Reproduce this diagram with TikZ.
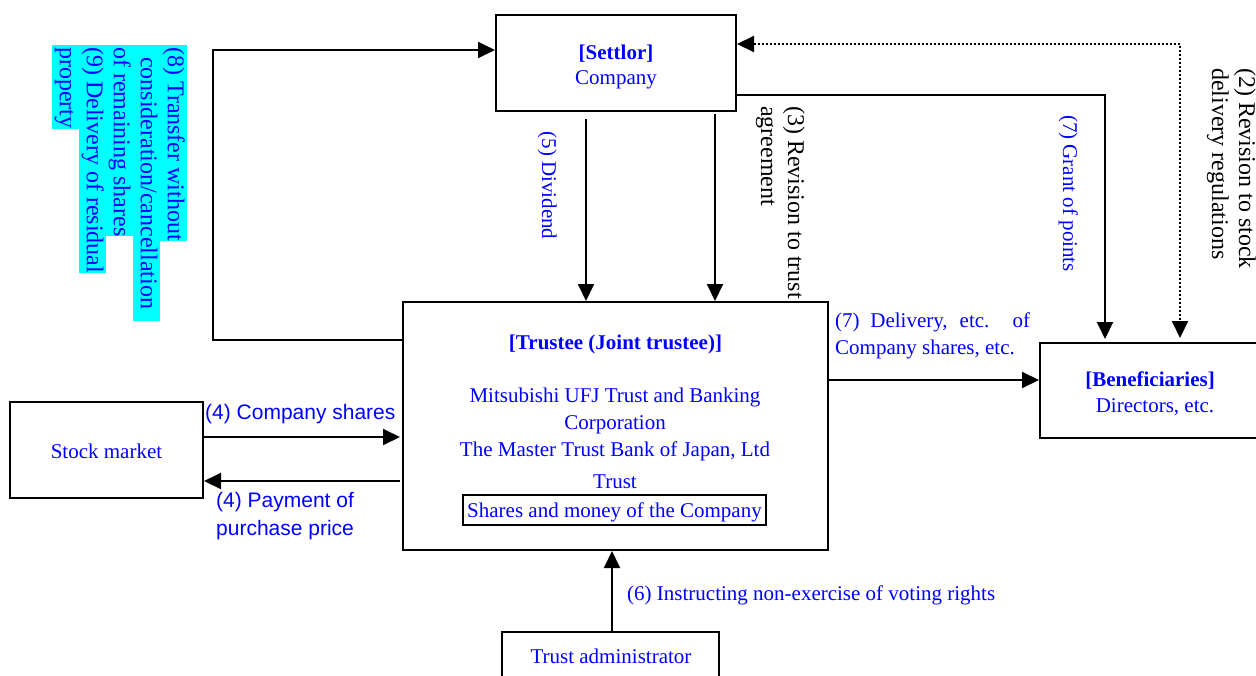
\documentclass[tikz,border=0pt]{standalone}
\usepackage{fontspec}
\setmainfont{Liberation Serif}
\newfontfamily\arialf{Liberation Sans}
\usetikzlibrary{arrows.meta}
\definecolor{tblue}{RGB}{0,0,255}
\definecolor{hcyan}{RGB}{0,255,255}
\tikzset{
  box/.style={draw, line width=2pt, inner sep=0pt},
  arr/.style={line width=2pt, -{Triangle[length=17pt,width=16pt]}},
  dotarr/.style={line width=2pt, dash pattern=on 2pt off 2pt, {Triangle[length=17pt,width=16pt]}-{Triangle[length=17pt,width=16pt]}},
  txt/.style={text=tblue, inner sep=0pt, text height=14pt, text depth=0pt},
  big/.style={font=\fontsize{24pt}{27pt}\selectfont},
  hl/.style={fill=hcyan, text=tblue, rotate=-90, anchor=north west, inner xsep=0pt, inner ysep=2pt, text height=17pt, text depth=6pt, big},
  vlab/.style={inner sep=0pt, rotate=-90, anchor=north west, align=left, big},
}
\begin{document}
\begin{tikzpicture}[x=1pt,y=-1pt,font=\fontsize{21pt}{27pt}\selectfont]
\useasboundingbox (0,0) rectangle (1256,675);

% boxes
\node[box, minimum width=240pt, minimum height=96pt] (settlor) at (616,63) {};
\node[box, minimum width=425pt, minimum height=248pt] (trustee) at (615.5,426) {};
\node[box, minimum width=232pt, minimum height=95pt] (benef) at (1156,390.5) {};
\node[box, minimum width=193pt, minimum height=96pt] (market) at (106.5,450) {};
\node[box, minimum width=217pt, minimum height=68pt] (admin) at (610.5,666) {};

% box texts
\node[txt] (settlorT) at (616,52) {\textbf{[Settlor]}};
\node[txt] (settlorC) at (616,77) {Company};
\node[txt] (trT) at (615.5,342) {\textbf{[Trustee (Joint trustee)]}};
\node[txt] (trA) at (615,395) {Mitsubishi UFJ Trust and Banking};
\node[txt] (trB) at (615,422) {Corporation};
\node[txt] (trC) at (615,449) {The Master Trust Bank of Japan, Ltd};
\node[txt] (trD) at (615,481) {Trust};
\node[box, txt, minimum width=303pt, minimum height=30pt] (trE) at (614.5,510) {Shares and money of the Company};
\node[txt] (benT) at (1150,379) {\textbf{[Beneficiaries]}};
\node[txt] (benD) at (1155,405) {Directors, etc.};
\node[txt] (marketT) at (106.5,451) {Stock market};
\node[txt] (adminT) at (611,656) {Trust administrator};

% left highlighted label
\node[hl] (h1) at (187,45) {\hspace*{2pt}(8) Transfer without};
\node[hl] (h2) at (160,45) {\hspace*{12pt}consideration/cancellation\hspace*{12pt}};
\node[hl] (h3) at (133,45) {\hspace*{2pt}of remaining shares};
\node[hl] (h4) at (106,45) {\hspace*{2pt}(9) Delivery of residual};
\node[hl] (h5) at (79,45) {\hspace*{2pt}property};

% rotated labels
\node[txt, rotate=-90] (l5) at (549,185.5) {(5) Dividend};
\node[vlab] (l3) at (805,106) {(3) Revision to trust\\agreement};
\node[txt, rotate=-90] (l7g) at (1070,193.5) {(7) Grant of points};
\node[vlab] (l2) at (1256,68) {(2) Revision to stock\\delivery regulations};

% other labels
\node[inner sep=0pt, text=tblue, anchor=north west, align=left] (l7d) at (835,313)
  {\makebox[195pt][s]{(7) Delivery, etc. of}\\Company shares, etc.};
\node[txt, anchor=west, font=\arialf\fontsize{21pt}{27pt}\selectfont] (l4a) at (205,412) {(4) Company shares};
\node[inner sep=0pt, text=tblue, anchor=north west, align=left, font=\arialf\fontsize{21pt}{28pt}\selectfont] (l4b) at (216,492) {(4) Payment of\\purchase price};
\node[txt, anchor=west] (l6) at (627,593) {(6) Instructing non-exercise of voting rights};

% connectors
\coordinate (cL) at (213,340);
\coordinate (cLt) at (213,50);
\draw[arr] (trustee.west |- cL) -- (cL) -- (cLt) -- (settlor.west |- cLt);

\coordinate (c5) at (586,0);
\draw[arr, shorten <=7pt] (settlor.south -| c5) -- (trustee.north -| c5);
\coordinate (c3) at (715,0);
\draw[arr, shorten <=2pt] (settlor.south -| c3) -- (trustee.north -| c3);

\coordinate (cG) at (1105,95);
\draw[arr, shorten >=3pt] (settlor.east |- cG) -- (cG) -- (benef.north -| cG);

\coordinate (cD) at (1180,44);
\draw[dotarr, shorten >=4pt] (settlor.east |- cD) -- (cD) -- (benef.north -| cD);

\coordinate (cDl) at (0,380);
\draw[arr] (trustee.east |- cDl) -- (benef.west |- cDl);

\coordinate (c4a) at (0,437);
\coordinate (c4b) at (0,481);
\draw[arr, shorten >=2pt] (market.east |- c4a) -- (trustee.west |- c4a);
\draw[arr, shorten <=2pt] (trustee.west |- c4b) -- (market.east |- c4b);

\coordinate (c6) at (612,0);
\draw[arr] (admin.north -| c6) -- (trustee.south -| c6);
\end{tikzpicture}
\end{document}
